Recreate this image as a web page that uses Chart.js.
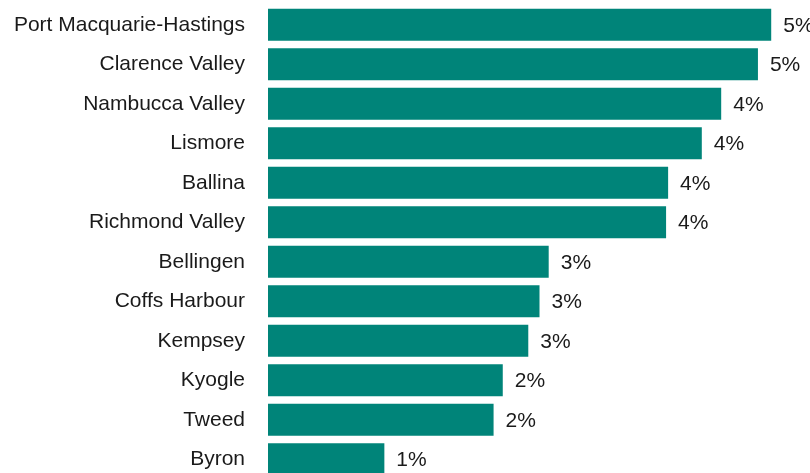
<!DOCTYPE html>
<html lang="en">
<head>
    <meta charset="UTF-8">
    <title>LGA share</title>
    <script src="https://cdn.jsdelivr.net/npm/chart.js"></script>
    <style>
        html, body { margin: 0; padding: 0; overflow: hidden; background: #fff; }
        canvas { display: block; }
    </style>
</head>
<body>
    <canvas id="lgaChart" width="810" height="479"></canvas>

    <script>
        // categories and values (share, %)
        var areas = ['Port Macquarie-Hastings', 'Clarence Valley', 'Nambucca Valley', 'Lismore', 'Ballina',
            'Richmond Valley', 'Bellingen', 'Coffs Harbour', 'Kempsey', 'Kyogle', 'Tweed', 'Byron'];
        var shares = [4.93, 4.80, 4.44, 4.25, 3.92, 3.90, 2.75, 2.66, 2.55, 2.30, 2.21, 1.14];

        var fontName = '"Liberation Sans", Arial, sans-serif';

        // value labels at the end of each bar
        var endLabels = {
            id: 'endLabels',
            afterDatasetsDraw: function (chart) {
                var ctx = chart.ctx;
                var meta = chart.getDatasetMeta(0);
                ctx.save();
                ctx.font = '21px ' + fontName;
                ctx.fillStyle = '#1a1a1a';
                ctx.textAlign = 'left';
                ctx.textBaseline = 'middle';
                meta.data.forEach(function (bar, i) {
                    ctx.fillText(Math.round(shares[i]) + '%', bar.x + 12, bar.y + 1);
                });
                ctx.restore();
            }
        };

        var ctx = document.getElementById('lgaChart').getContext('2d');
        var lgaChart = new Chart(ctx, {
            type: 'bar',
            data: {
                labels: areas,
                datasets: [{
                    data: shares,
                    backgroundColor: '#008479',
                    borderWidth: 0,
                    barPercentage: 0.81,
                    categoryPercentage: 1
                }]
            },
            options: {
                indexAxis: 'y',
                responsive: false,
                animation: false,
                layout: { padding: { top: 5, right: 0, bottom: 0, left: 0 } },
                plugins: {
                    legend: { display: false },
                    tooltip: { enabled: false }
                },
                scales: {
                    x: {
                        min: 0,
                        max: 5.31,
                        display: false
                    },
                    y: {
                        grid: { display: false },
                        border: { display: false },
                        ticks: {
                            color: '#1a1a1a',
                            padding: 15,
                            font: { family: fontName, size: 21 }
                        },
                        afterFit: function (scale) {
                            scale.width = 268;
                            // tick padding would otherwise shrink the plot vertically
                            scale.paddingTop = 0;
                            scale.paddingBottom = 0;
                        }
                    }
                }
            },
            plugins: [endLabels]
        });
    </script>
</body>
</html>
